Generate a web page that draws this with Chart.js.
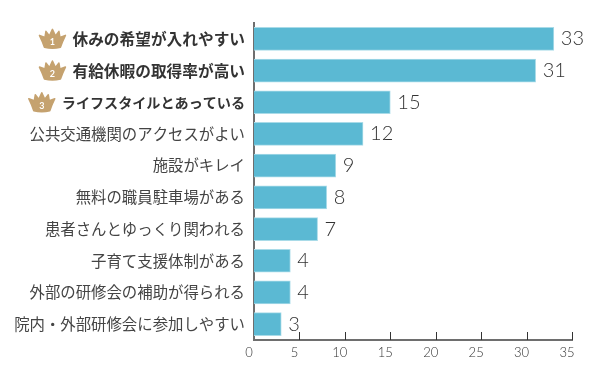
<!DOCTYPE html>
<html>
<head>
<meta charset="utf-8">
<style>
html, body { margin: 0; padding: 0; background: #fff; }
#wrap { width: 596px; height: 374px; }
</style>
<script src="https://cdn.jsdelivr.net/npm/chart.js@4"></script>
</head>
<body>
<div id="wrap"><canvas id="chart" width="596" height="374"></canvas></div>
<script>
const categories = [
    "休みの希望が入れやすい",
    "有給休暇の取得率が高い",
    "ライフスタイルとあっている",
    "公共交通機関のアクセスがよい",
    "施設がキレイ",
    "無料の職員駐車場がある",
    "患者さんとゆっくり関われる",
    "子育て支援体制がある",
    "外部の研修会の補助が得られる",
    "院内・外部研修会に参加しやすい"
];
const values = [33, 31, 15, 12, 9, 8, 7, 4, 4, 3];
const rankedCount = 3;

const jpFont = '"Noto Sans CJK JP", "Noto Sans", sans-serif';
const numFont = 'Lato, "Open Sans", sans-serif';
const axisColor = "#6e6e6e";

function labelSize(i) {
    if (i === 2) return 14.1;
    return i < rankedCount ? 15.7 : 15.4;
}

const axisTicksPlugin = {
    id: "axisTicks",
    afterDraw(chart) {
        const c = chart.ctx;
        const x = chart.scales.x;
        const bottom = chart.chartArea.bottom;
        c.save();
        c.strokeStyle = "#333";
        c.lineWidth = 1;
        x.ticks.forEach(t => {
            if (t.value === 0) return;
            const px = Math.round(x.getPixelForValue(t.value)) + 0.5;
            c.beginPath();
            c.moveTo(px, bottom);
            c.lineTo(px, bottom - 8);
            c.stroke();
        });
        c.restore();
    }
};

const valueLabelPlugin = {
    id: "valueLabels",
    afterDatasetsDraw(chart) {
        const c = chart.ctx;
        const meta = chart.getDatasetMeta(0);
        c.save();
        c.font = "300 20px " + numFont;
        c.fillStyle = "#333";
        c.textAlign = "left";
        c.textBaseline = "middle";
        meta.data.forEach((bar, i) => {
            c.fillText(String(values[i]), bar.x + 7, bar.y);
        });
        c.restore();
    }
};

function drawCrown(c, cx, cy, rank) {
    c.save();
    c.translate(cx, cy);
    c.fillStyle = "#c5a26f";
    c.strokeStyle = "#c5a26f";
    c.lineWidth = 1.5;
    c.lineJoin = "round";
    c.beginPath();
    c.moveTo(-8, 9);
    c.quadraticCurveTo(-10, 3, -13, -3);
    c.lineTo(-7.5, -1);
    c.lineTo(-6.5, -7);
    c.lineTo(-3, -2.5);
    c.lineTo(0, -9);
    c.lineTo(3, -2.5);
    c.lineTo(6.5, -7);
    c.lineTo(7.5, -1);
    c.lineTo(13, -3);
    c.quadraticCurveTo(10, 3, 8, 9);
    c.quadraticCurveTo(0, 11, -8, 9);
    c.closePath();
    c.fill();
    c.stroke();
    c.fillStyle = "#fff";
    c.font = "bold 9px " + numFont;
    c.textAlign = "center";
    c.textBaseline = "middle";
    c.fillText(String(rank), 0, 4);
    c.restore();
}

const crownPlugin = {
    id: "crowns",
    afterDraw(chart) {
        const c = chart.ctx;
        const y = chart.scales.y;
        c.save();
        for (let i = 0; i < rankedCount; i++) {
            c.font = "bold " + labelSize(i) + "px " + jpFont;
            const w = c.measureText(categories[i]).width;
            drawCrown(c, 245 - w - 20, y.getPixelForValue(i) - 0.5, i + 1);
        }
        c.restore();
    }
};

new Chart(document.getElementById("chart"), {
    type: "bar",
    data: {
        labels: categories,
        datasets: [{
            data: values,
            backgroundColor: "#5bb9d3",
            borderColor: "#a9dbe8",
            borderWidth: 1,
            barThickness: 23
        }]
    },
    options: {
        indexAxis: "y",
        responsive: false,
        animation: false,
        layout: { padding: { top: 23, right: 24, left: 0, bottom: 0 } },
        plugins: {
            legend: { display: false },
            tooltip: { enabled: false }
        },
        scales: {
            x: {
                min: 0,
                max: 35,
                afterFit: s => { s.height = 34; },
                grid: { display: false },
                border: { display: true, color: axisColor, width: 2 },
                ticks: {
                    stepSize: 5,
                    maxRotation: 0,
                    labelOffset: -5,
                    padding: -3,
                    color: "#333",
                    font: { family: numFont, size: 13, weight: "300" }
                }
            },
            y: {
                afterFit: s => { s.width = 254; },
                grid: { display: false },
                border: { display: true, color: axisColor, width: 2 },
                ticks: {
                    padding: 1,
                    autoSkip: false,
                    color: ctx => ctx.index < rankedCount ? "#333" : "#444",
                    font: ctx => ({
                        family: jpFont,
                        size: labelSize(ctx.index),
                        weight: ctx.index < rankedCount ? "bold" : "normal"
                    })
                }
            }
        }
    },
    plugins: [axisTicksPlugin, valueLabelPlugin, crownPlugin]
});
</script>
</body>
</html>
